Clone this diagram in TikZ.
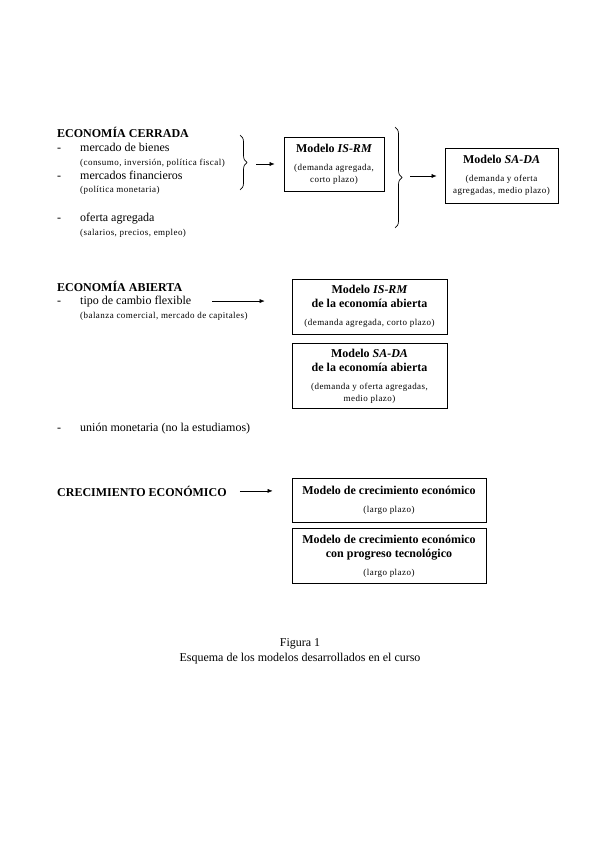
\documentclass[tikz,border=0pt]{standalone}
\usepackage{fontspec}
\setmainfont{Liberation Serif}
\newfontfamily\smallfont[LetterSpace=5]{Liberation Serif}
\usetikzlibrary{arrows.meta,positioning,decorations.pathreplacing}
\newcommand{\guion}{\makebox[23pt][l]{-}}
\newcommand{\nota}[1]{{\smallfont\fontsize{9}{11}\selectfont #1}}

\begin{document}
\begin{tikzpicture}[x=1pt,y=-1pt,node distance=9pt,
 every node/.style={font=\fontsize{12}{14}\selectfont},
 box/.style={draw,line width=.8pt,align=center,inner sep=2pt},
 item/.style={anchor=base west,inner sep=0pt},
 head/.style={item,font=\fontsize{12}{14}\selectfont\bfseries},
 brace/.style={decorate,decoration={brace,amplitude=7pt},line width=.7pt},
 >={Latex[length=5pt,width=4pt]}]
\useasboundingbox (0,0) rectangle (599,848);

% economia cerrada
\node[head] (cerrada) at (57,138) {ECONOMÍA CERRADA};
\node[item] (bienes) at (57,151) {\guion mercado de bienes};
\node[item] (bienesn) at (80,165) {\nota{(consumo, inversión, política fiscal)}};
\node[item] (finan) at (57,179) {\guion mercados financieros};
\node[item] (finann) at (80,192) {\nota{(política monetaria)}};
\node[item] (oferta) at (57,221) {\guion oferta agregada};
\node[item] (ofertan) at (80,235) {\nota{(salarios, precios, empleo)}};
\node[box,minimum width=100pt,minimum height=54pt] (isrm) at (334,164)
 {\textbf{Modelo \textit{IS-RM}}\\[4pt]\nota{(demanda agregada,}\\[-2pt]\nota{corto plazo)}};
\node[box,minimum width=113pt,minimum height=55pt] (sada) at (501.5,175.5)
 {\textbf{Modelo \textit{SA-DA}}\\[4pt]\nota{(demanda y oferta}\\[-2pt]\nota{agregadas, medio plazo)}};
\draw[brace] (240,135) -- (240,190);
\draw[brace] (395,127) -- (395,228);
\coordinate (t1) at (247,164);
\coordinate (t2) at (402,176);
\draw[->,shorten <=9pt,shorten >=9pt] (t1) -- (t1 -| isrm.west);
\draw[->,shorten <=8pt,shorten >=8pt] (t2) -- (t2 -| sada.west);

% economia abierta
\node[head] (abierta) at (57,291) {ECONOMÍA ABIERTA};
\node[item] (tipo) at (57,304) {\guion tipo de cambio flexible};
\node[item] (tipon) at (80,318) {\nota{(balanza comercial, mercado de capitales)}};
\node[item] (union) at (57,431) {\guion unión monetaria (no la estudiamos)};
\node[box,minimum width=155pt,minimum height=55pt] (abiertaA) at (369.5,306.5)
 {\textbf{Modelo \textit{IS-RM}}\\\textbf{de la economía abierta}\\[4pt]\nota{(demanda agregada, corto plazo)}};
\node[box,minimum width=155pt,minimum height=65pt,below=of abiertaA] (abiertaB)
 {\textbf{Modelo \textit{SA-DA}}\\\textbf{de la economía abierta}\\[4pt]\nota{(demanda y oferta agregadas,}\\[-2pt]\nota{medio plazo)}};
\draw[->,shorten <=21pt,shorten >=27pt] (tipo.east) -- (tipo.east -| abiertaA.west);

% crecimiento
\node[head] (crec) at (57,496) {CRECIMIENTO ECONÓMICO};
\node[box,minimum width=194pt,minimum height=44pt] (crecA) at (389,500)
 {\textbf{Modelo de crecimiento económico}\\[4pt]\nota{(largo plazo)}};
\node[box,minimum width=194pt,minimum height=55pt,below=6pt of crecA] (crecB)
 {\textbf{Modelo de crecimiento económico}\\\textbf{con progreso tecnológico}\\[4pt]\nota{(largo plazo)}};
\draw[->,shorten <=13pt,shorten >=19pt] (crec.east) -- (crec.east -| crecA.west);

% pie de figura
\node (fig) at (300,643.5) {Figura 1};
\node (esquema) at (300,658.5) {Esquema de los modelos desarrollados en el curso};
\end{tikzpicture}
\end{document}
